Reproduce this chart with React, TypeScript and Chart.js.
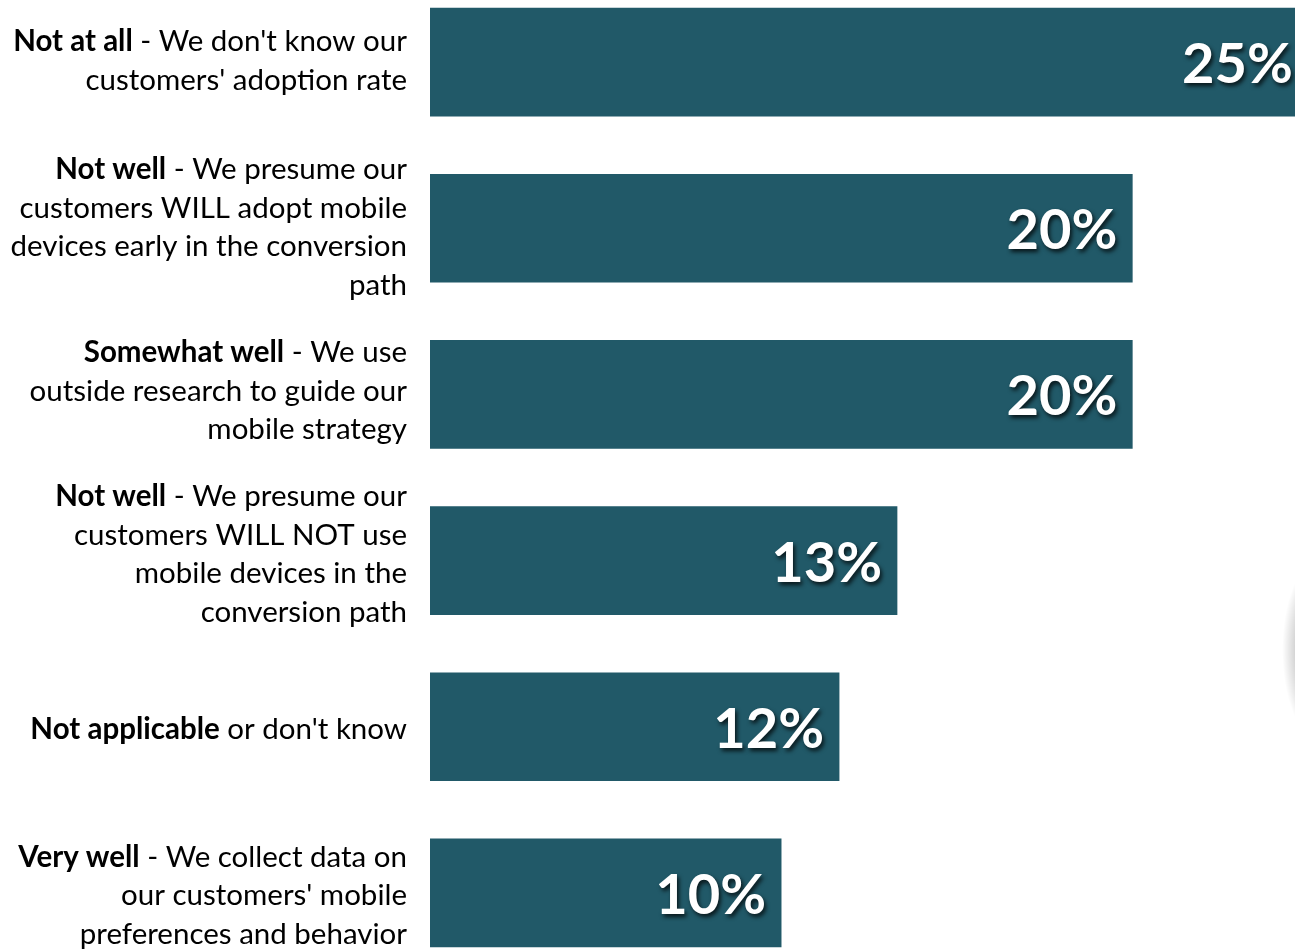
import React, { useEffect, useRef } from "react";
import { Chart, registerables } from "chart.js";

Chart.register(...registerables);

const categories = [
  "Not at all - We don't know our customers' adoption rate",
  "Not well - We presume our customers WILL adopt mobile devices early in the conversion path",
  "Somewhat well - We use outside research to guide our mobile strategy",
  "Not well - We presume our customers WILL NOT use mobile devices in the conversion path",
  "Not applicable or don't know",
  "Very well - We collect data on our customers' mobile preferences and behavior",
];

const values = [25, 20, 20, 13.3, 11.65, 10];
const valueLabels = ["25%", "20%", "20%", "13%", "12%", "10%"];

// label lines: [boldPart, regularPart] per line
const labelLines: [string, string][][] = [
  [["Not at all", " - We don't know our"], ["", "customers' adoption rate"]],
  [
    ["Not well", " - We presume our"],
    ["", "customers WILL adopt mobile"],
    ["", "devices early in the conversion"],
    ["", "path"],
  ],
  [
    ["Somewhat well", " - We use"],
    ["", "outside research to guide our"],
    ["", "mobile strategy"],
  ],
  [
    ["Not well", " - We presume our"],
    ["", "customers WILL NOT use"],
    ["", "mobile devices in the"],
    ["", "conversion path"],
  ],
  [["Not applicable", " or don't know"]],
  [
    ["Very well", " - We collect data on"],
    ["", "our customers' mobile"],
    ["", "preferences and behavior"],
  ],
];

// small vertical nudges of each label block (style only)
const labelNudge = [-1, -1, -3, -6, 3, 3];

const BAR_COLOR = "#215968";
const FONT = "Lato";
const LABEL_SIZE = 29.5;

const labelPlugin = {
  id: "richLabels",
  beforeDraw(chart: any) {
    const ctx = chart.ctx;
    ctx.save();
    const cx = 1325;
    const cy = 671;
    const g = ctx.createRadialGradient(cx, cy, 0, cx, cy, 95);
    g.addColorStop(0, "rgba(0,0,0,0.45)");
    g.addColorStop(0.55, "rgba(0,0,0,0.25)");
    g.addColorStop(1, "rgba(0,0,0,0)");
    ctx.translate(cx, cy);
    ctx.scale(0.45, 1);
    ctx.translate(-cx, -cy);
    ctx.fillStyle = g;
    ctx.fillRect(cx - 100, cy - 100, 200, 200);
    ctx.restore();
  },
  afterDraw(chart: any) {
    const ctx = chart.ctx;
    const yScale = chart.scales.y;
    const xScale = chart.scales.x;
    ctx.save();
    const lh = 38.5;
    labelLines.forEach((lines, i) => {
      const cy = yScale.getPixelForValue(i) + labelNudge[i];
      const startY = cy - ((lines.length - 1) * lh) / 2;
      lines.forEach(([b, r], j) => {
        const y = startY + j * lh;
        ctx.textBaseline = "middle";
        ctx.textAlign = "left";
        ctx.fillStyle = "#000";
        ctx.font = `bold ${LABEL_SIZE}px ${FONT}`;
        const wb = b ? ctx.measureText(b).width : 0;
        ctx.font = `${LABEL_SIZE}px ${FONT}`;
        const wr = ctx.measureText(r).width;
        const right = 407;
        let x = right - wb - wr;
        if (b) {
          ctx.font = `bold ${LABEL_SIZE}px ${FONT}`;
          ctx.fillText(b, x, y);
          x += wb;
        }
        ctx.font = `${LABEL_SIZE}px ${FONT}`;
        ctx.fillText(r, x, y);
      });
    });
    values.forEach((v, i) => {
      const x = xScale.getPixelForValue(v) - 15;
      const y = yScale.getPixelForValue(i) + 3;
      ctx.font = `bold 56px ${FONT}`;
      ctx.textAlign = "right";
      ctx.textBaseline = "middle";
      ctx.shadowColor = "rgba(0,0,0,0.75)";
      ctx.shadowBlur = 4;
      ctx.shadowOffsetX = 2;
      ctx.shadowOffsetY = 3;
      ctx.fillStyle = "#ffffff";
      ctx.fillText(valueLabels[i], x, y);
    });
    ctx.restore();
  },
};

export default function App() {
  const ref = useRef<HTMLCanvasElement>(null);
  useEffect(() => {
    document.body.style.margin = "0";
    document.body.style.overflow = "hidden";
    const chart = new Chart(ref.current!, {
      type: "bar",
      data: {
        labels: categories,
        datasets: [
          {
            data: values,
            backgroundColor: BAR_COLOR,
            borderWidth: 0,
            barThickness: 108,
          },
        ],
      },
      options: {
        indexAxis: "y",
        responsive: false,
        animation: false,
        devicePixelRatio: 1,
        layout: { padding: { left: 430, right: 0, top: 0, bottom: 0 } },
        plugins: { legend: { display: false }, tooltip: { enabled: false } },
        scales: {
          x: { display: false, min: 0, max: 26 },
          y: { display: false },
        },
      },
      plugins: [labelPlugin],
    });
    return () => chart.destroy();
  }, []);
  return (
    <div
      style={{
        position: "fixed",
        left: 0,
        top: 0,
        width: 1295,
        height: 951,
        overflow: "hidden",
        background: "#fff",
      }}
    >
      <canvas
        ref={ref}
        width={1343}
        height={997}
        style={{ position: "absolute", left: 0, top: -21, width: 1343, height: 997 }}
      />
    </div>
  );
}
